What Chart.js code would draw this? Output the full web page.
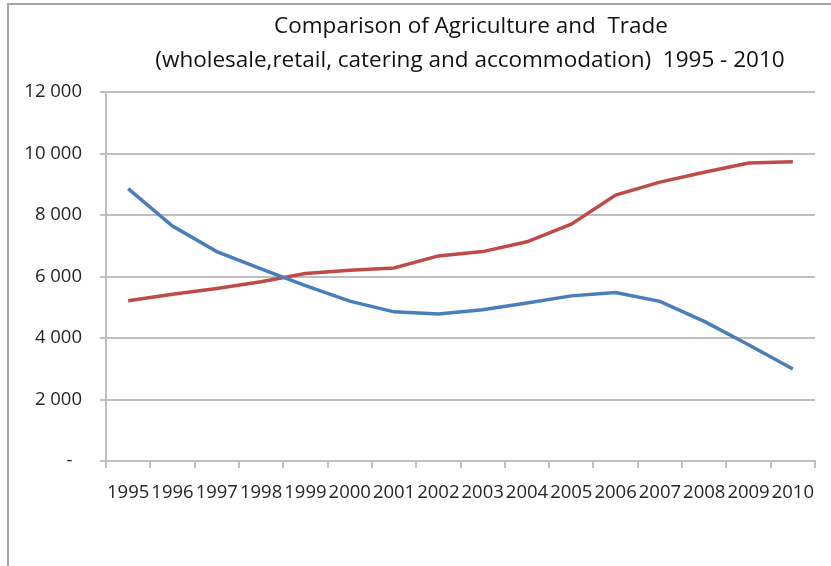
<!DOCTYPE html>
<html>
<head>
<meta charset="utf-8">
<script src="https://cdn.jsdelivr.net/npm/chart.js@4/dist/chart.umd.min.js"></script>
<style>
  html, body { margin: 0; padding: 0; background: #fff; }
  #wrap { width: 831px; height: 566px; position: relative; }
</style>
</head>
<body>
<div id="wrap"><canvas id="chart" width="831" height="566"></canvas></div>
<script>
// --- data ---
const years = ['1995', '1996', '1997', '1998', '1999', '2000', '2001', '2002',
               '2003', '2004', '2005', '2006', '2007', '2008', '2009', '2010'];
const agriculture = [8860, 7640, 6810, 6250, 5700, 5200, 4850, 4780,
                     4920, 5140, 5370, 5480, 5190, 4540, 3780, 2990];
const trade = [5210, 5420, 5610, 5830, 6100, 6200, 6280, 6670,
               6810, 7130, 7700, 8650, 9070, 9390, 9690, 9730];
const titleLines = ['Comparison of Agriculture and  Trade',
                    '(wholesale,retail, catering and accommodation)  1995 - 2010'];

const FONT = "'Open Sans', 'Noto Sans', sans-serif";
const GRID = '#bfbfbf';

// titel en kader zelf tekenen (Excel-stijl)
const excelFrame = {
    id: 'excelFrame',
    beforeDraw(chart) {
        const ctx = chart.ctx;
        ctx.save();
        ctx.strokeStyle = '#a6a6a6';
        ctx.lineWidth = 2;
        ctx.beginPath();
        ctx.moveTo(8, 566);
        ctx.lineTo(8, 4);
        ctx.lineTo(831, 4);
        ctx.stroke();
        ctx.restore();
    },
    afterDraw(chart) {
        const ctx = chart.ctx;
        ctx.save();
        ctx.fillStyle = '#111';
        ctx.font = '22.5px ' + FONT;
        ctx.textAlign = 'center';
        ctx.textBaseline = 'middle';
        ctx.fillText(titleLines[0], 471, 27);
        ctx.fillText(titleLines[1], 470, 61);
        ctx.restore();
    }
};

function fmt(v) {
    if (v === 0) return '-  ';
    return v.toString().replace(/\B(?=(\d{3})+(?!\d))/g, ' ');
}

new Chart(document.getElementById('chart'), {
    type: 'line',
    data: {
        labels: years,
        datasets: [
            {
                label: 'Agriculture',
                data: agriculture,
                borderColor: '#4a7ebb',
                borderWidth: 3.5,
                pointRadius: 0,
                tension: 0
            },
            {
                label: 'Trade',
                data: trade,
                borderColor: '#be4b48',
                borderWidth: 3.5,
                pointRadius: 0,
                tension: 0
            }
        ]
    },
    options: {
        responsive: false,
        animation: false,
        layout: { padding: { left: 0, right: 16, top: 92, bottom: 0 } },
        plugins: {
            legend: { display: false },
            title: { display: false },
            tooltip: { enabled: false }
        },
        scales: {
            x: {
                offset: true,
                grid: { offset: true, drawOnChartArea: false, drawTicks: true, tickLength: 7, color: GRID, lineWidth: 2 },
                border: { color: GRID, width: 2 },
                ticks: {
                    autoSkip: false, maxRotation: 0, minRotation: 0, padding: 14,
                    color: '#262626', font: { family: FONT, size: 18.5 }
                },
                afterFit(s) { s.height = 105; }
            },
            y: {
                min: 0, max: 12000,
                grid: { color: GRID, lineWidth: 2, tickLength: 6 },
                border: { color: GRID, width: 2 },
                ticks: {
                    stepSize: 2000, padding: 18, callback: fmt,
                    color: '#262626', font: { family: FONT, size: 18.5 }
                },
                afterFit(s) { s.width = 106; }
            }
        }
    },
    plugins: [excelFrame]
});
</script>
</body>
</html>
